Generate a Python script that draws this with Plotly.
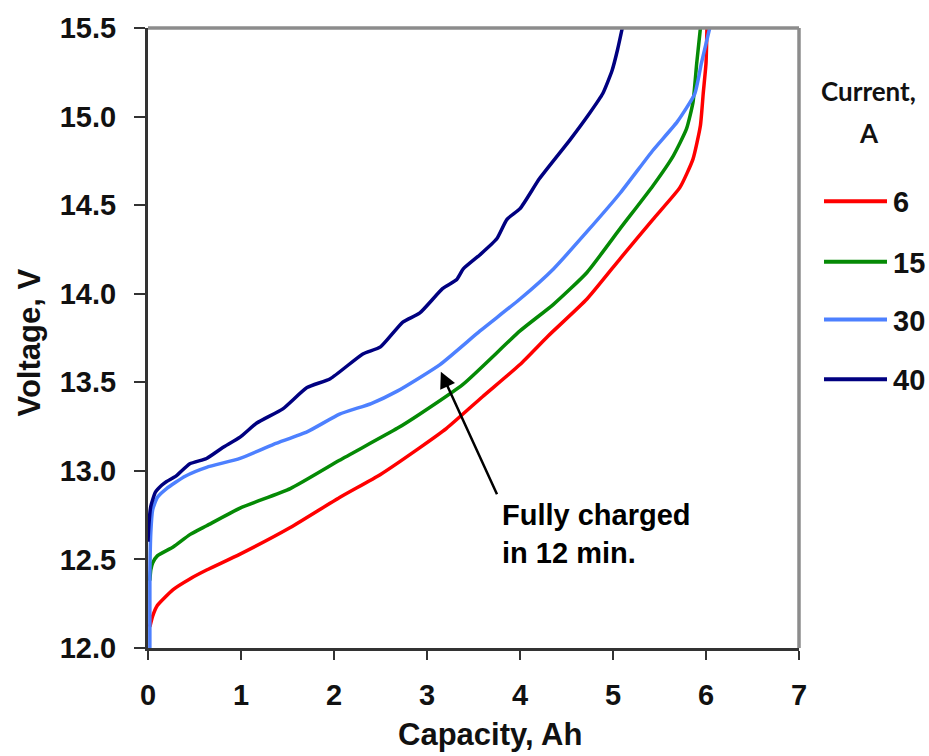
import plotly.graph_objects as go

# ---- data ----
x_6A = [0.02, 0.05, 0.1, 0.27, 0.45, 0.63, 0.99, 1.53, 2.06, 2.5, 2.92, 3.21, 3.6, 4.0, 4.3,
        4.72, 5.08, 5.43, 5.72, 5.86, 5.94, 5.97, 6.0, 6.01]
v_6A = [12.12, 12.18, 12.24, 12.33, 12.39, 12.44, 12.53, 12.68, 12.85, 12.98, 13.13, 13.24, 13.42,
        13.6, 13.76, 13.97, 14.2, 14.42, 14.6, 14.76, 14.95, 15.13, 15.3, 15.5]

x_15A = [0.02, 0.03, 0.05, 0.1, 0.27, 0.45, 0.63, 0.99, 1.53, 2.06, 2.68, 2.92, 3.39, 4.0, 4.36,
         4.72, 5.08, 5.43, 5.65, 5.79, 5.86, 5.9, 5.94]
v_15A = [12.38, 12.44, 12.48, 12.52, 12.57, 12.64, 12.69, 12.79, 12.9, 13.06, 13.24, 13.32, 13.49,
         13.79, 13.94, 14.12, 14.37, 14.61, 14.78, 14.93, 15.08, 15.3, 15.5]

x_30A = [0.02, 0.02, 0.03, 0.05, 0.1, 0.2, 0.4, 0.63, 0.99, 1.35, 1.71, 2.06, 2.4, 2.68, 3.14,
         3.57, 4.0, 4.36, 4.72, 5.08, 5.43, 5.69, 5.88, 5.95, 6.04]
v_30A = [12.0, 12.4, 12.65, 12.78, 12.85, 12.9, 12.97, 13.02, 13.07, 13.15, 13.22, 13.32, 13.38,
         13.45, 13.6, 13.79, 13.97, 14.14, 14.35, 14.57, 14.81, 14.97, 15.13, 15.3, 15.5]

x_40A = [0.0, 0.01, 0.03, 0.08, 0.15, 0.2, 0.3, 0.45, 0.63, 0.8, 0.99, 1.17, 1.45, 1.71, 1.96,
         2.31, 2.5, 2.74, 2.92, 3.17, 3.32, 3.39, 3.57, 3.75, 3.86, 4.0, 4.21, 4.54, 4.75, 4.89,
         4.99, 5.05, 5.1]
v_40A = [12.6, 12.7, 12.8, 12.88, 12.92, 12.94, 12.97, 13.04, 13.07, 13.13, 13.19, 13.27, 13.35,
         13.47, 13.52, 13.66, 13.7, 13.84, 13.89, 14.03, 14.08, 14.14, 14.22, 14.31, 14.42, 14.48,
         14.65, 14.87, 15.02, 15.13, 15.26, 15.38, 15.5]

series_names = ["6", "15", "30", "40"]
series_x = [x_6A, x_15A, x_30A, x_40A]
series_v = [v_6A, v_15A, v_30A, v_40A]
series_colors = ["#ff0000", "#058a05", "#4d80ff", "#000080"]

x_ticks = [0, 1, 2, 3, 4, 5, 6, 7]
y_ticks = [12.0, 12.5, 13.0, 13.5, 14.0, 14.5, 15.0, 15.5]

ARIAL = "Liberation Sans, Arial, sans-serif"

fig = go.Figure()
for name, xs, vs, col in zip(series_names, series_x, series_v, series_colors):
    fig.add_trace(go.Scatter(x=xs, y=vs, mode="lines", name=name,
                             line=dict(color=col, width=3.5, shape="spline", smoothing=0.5),
                             showlegend=False))

L, R, T, B = 148, 130, 25, 108
W, H = 929, 756
pw, ph = W - L - R, H - T - B

def px2paper_x(px):
    return (px - L) / pw

def py2paper_y(py):
    return (H - B - py) / ph

fig.update_layout(
    width=W, height=H,
    margin=dict(l=L, r=R, t=T, b=B),
    paper_bgcolor="white", plot_bgcolor="white",
    font=dict(family=ARIAL, color="#111111"),
)
fig.update_xaxes(range=[0, 7], tickvals=x_ticks, showgrid=False, zeroline=False,
                 showline=True, linecolor="#333333", linewidth=3,
                 ticks="outside", ticklen=9, tickwidth=2, tickcolor="#333333",
                 tickfont=dict(family=ARIAL, size=29, weight="bold", color="#111111"),
                 ticklabelstandoff=10)
fig.update_yaxes(range=[12, 15.5], tickvals=y_ticks, tickformat=".1f", showgrid=False,
                 zeroline=False, showline=True, linecolor="#333333", linewidth=3,
                 ticks="outside", ticklen=11, tickwidth=2, tickcolor="#333333",
                 tickfont=dict(family=ARIAL, size=29, weight="bold", color="#111111"),
                 ticklabelstandoff=12)

# gray top/right frame
fig.add_shape(type="line", xref="paper", yref="paper", x0=0, x1=1, y0=1, y1=1,
              line=dict(color="#8c8c8c", width=3.5))
fig.add_shape(type="line", xref="paper", yref="paper", x0=1, x1=1, y0=0, y1=1,
              line=dict(color="#8c8c8c", width=3.5))

# axis titles
fig.add_annotation(text="Capacity, Ah", xref="paper", yref="paper",
                   x=px2paper_x(490), y=py2paper_y(735), showarrow=False,
                   xanchor="center", yanchor="middle",
                   font=dict(family=ARIAL, size=31, weight="bold", color="#111111"))
fig.add_annotation(text="Voltage, V", xref="paper", yref="paper",
                   x=px2paper_x(29), y=py2paper_y(341), showarrow=False, textangle=-90,
                   xanchor="center", yanchor="middle",
                   font=dict(family=ARIAL, size=31, weight="bold", color="#111111"))

# arrow annotation
fig.add_annotation(x=3.14, y=13.57, ax=3.76, ay=12.86, axref="x", ayref="y",
                   text="", showarrow=True, arrowhead=2, arrowsize=1.3, arrowwidth=2.5,
                   arrowcolor="#000000", standoff=2)
fig.add_annotation(text="Fully charged<br>in 12 min.", x=px2paper_x(500), y=py2paper_y(496),
                   xref="paper", yref="paper", showarrow=False, xanchor="left", yanchor="top",
                   align="left",
                   font=dict(family=ARIAL, size=29, weight="bold", color="#000000"))

# manual legend
fig.add_annotation(text="Current,", xref="paper", yref="paper",
                   x=px2paper_x(869), y=py2paper_y(88), showarrow=False,
                   xanchor="center", yanchor="middle",
                   font=dict(family="Lato, Open Sans, sans-serif", size=26, weight="bold",
                             color="#111111"))
fig.add_annotation(text="A", xref="paper", yref="paper",
                   x=px2paper_x(869), y=py2paper_y(131), showarrow=False,
                   xanchor="center", yanchor="middle",
                   font=dict(family="Lato, Open Sans, sans-serif", size=26, weight="bold",
                             color="#111111"))
legend_rows_py = [199, 260, 318, 378]
for name, col, py in zip(series_names, series_colors, legend_rows_py):
    fig.add_shape(type="line", xref="paper", yref="paper",
                  x0=px2paper_x(824), x1=px2paper_x(887),
                  y0=py2paper_y(py), y1=py2paper_y(py),
                  line=dict(color=col, width=4))
    fig.add_annotation(text=name, xref="paper", yref="paper",
                       x=px2paper_x(891), y=py2paper_y(py + 1), showarrow=False,
                       xanchor="left", yanchor="middle",
                       font=dict(family=ARIAL, size=29, weight="bold", color="#111111"))

fig.write_html("out.html")
